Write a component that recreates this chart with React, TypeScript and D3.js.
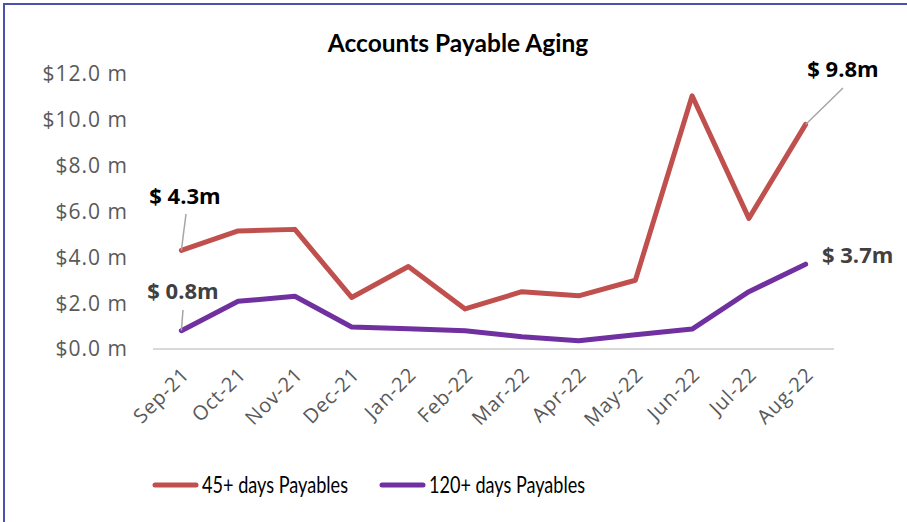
import * as d3 from "d3";
import React from "react";

// Chart data
const months = ["Sep-21", "Oct-21", "Nov-21", "Dec-21", "Jan-22", "Feb-22", "Mar-22", "Apr-22", "May-22", "Jun-22", "Jul-22", "Aug-22"];
const payables45 = [4.3, 5.15, 5.22, 2.25, 3.6, 1.75, 2.5, 2.32, 3.0, 11.05, 5.7, 9.8];
const payables120 = [0.8, 2.08, 2.3, 0.96, 0.88, 0.8, 0.53, 0.36, 0.62, 0.87, 2.5, 3.7];
const yTicks = [0, 2, 4, 6, 8, 10, 12];
const seriesNames = ["45+ days Payables", "120+ days Payables"];

const W = 907;
const H = 522;
const RED = "#C0504D";
const PURPLE = "#7030A0";
const tickFont = "'Open Sans', 'Noto Sans', sans-serif";
const titleFont = "Lato, 'Open Sans', sans-serif";

const App = () => {
  const x = d3.scaleBand().domain(months).range([153, 834]);
  const y = d3.scaleLinear().domain([0, 12]).range([349, 74]);
  const cx = (m: string) => (x(m) ?? 0) + x.bandwidth() / 2;

  const line = d3
    .line<number>()
    .x((_d, i) => cx(months[i]))
    .y((d) => y(d));

  const last = months.length - 1;

  // end-point labels with leader lines
  const labels = [
    { text: "$ 4.3m", v: payables45[0], i: 0, lx: 185, ly: 204, fill: "#000", anchor: "middle", lead: [186, 214] },
    { text: "$ 0.8m", v: payables120[0], i: 0, lx: 183, ly: 299, fill: "#404040", anchor: "middle", lead: [183, 310] },
    { text: "$ 9.8m", v: payables45[last], i: last, lx: 843, ly: 77, fill: "#000", anchor: "middle", lead: [843, 88] },
    { text: "$ 3.7m", v: payables120[last], i: last, lx: 822, ly: 263, fill: "#404040", anchor: "start", lead: null },
  ];

  const legendWidths = [146, 156];

  return (
    <svg width={W} height={H} style={{ position: "absolute", left: 0, top: 0, background: "#fff" }}>
      <rect x={0} y={0} width={W} height={H} fill="#fff" />
      {/* frame */}
      <path d={`M4,${H} L4,4 L${W},4`} fill="none" stroke="#4F4FAF" strokeWidth={2} />

      <text x={458} y={52} textAnchor="middle" fontFamily={titleFont} fontWeight="bold" fontSize={24.5} fill="#000">
        Accounts Payable Aging
      </text>

      {/* y axis labels */}
      {yTicks.map((t) => (
        <text key={t} x={128} y={y(t)} dy="0.35em" textAnchor="end" fontFamily={tickFont} fontSize={21} letterSpacing={1} fill="#595959">
          {`$${t.toFixed(1)} m`}
        </text>
      ))}

      {/* baseline */}
      <line x1={153} x2={834} y1={y(0)} y2={y(0)} stroke="#D9D9D9" strokeWidth={2} />

      {/* x axis labels */}
      {months.map((m) => (
        <text
          key={m}
          transform={`translate(${cx(m) + 4},${371}) rotate(-45)`}
          textAnchor="end"
          dy="0.35em"
          fontFamily={tickFont}
          fontSize={20}
          letterSpacing={0.8}
          fill="#595959"
        >
          {m}
        </text>
      ))}

      {/* series */}
      <path d={line(payables45) ?? ""} fill="none" stroke={RED} strokeWidth={5} strokeLinejoin="round" strokeLinecap="round" />
      <path d={line(payables120) ?? ""} fill="none" stroke={PURPLE} strokeWidth={5} strokeLinejoin="round" strokeLinecap="round" />

      {/* data labels */}
      {labels.map((l) => (
        <g key={l.text}>
          {l.lead && (
            <line x1={l.lead[0]} y1={l.lead[1]} x2={cx(months[l.i])} y2={y(l.v)} stroke="#A6A6A6" strokeWidth={1.5} />
          )}
          <text x={l.lx} y={l.ly} textAnchor={l.anchor as any} fontFamily={tickFont} fontWeight="bold" fontSize={22} fill={l.fill}>
            {l.text}
          </text>
        </g>
      ))}

      {/* legend */}
      {seriesNames.map((name, i) => {
        const lx = i === 0 ? 153 : 380;
        return (
          <g key={name}>
            <line x1={lx + 2} x2={lx + 43} y1={485} y2={485} stroke={i === 0 ? RED : PURPLE} strokeWidth={5} strokeLinecap="round" />
            <text
              x={lx + 49}
              y={493}
              fontFamily={titleFont}
              fontSize={24}
              textLength={legendWidths[i]}
              lengthAdjust="spacingAndGlyphs"
              fill="#000"
            >
              {name}
            </text>
          </g>
        );
      })}
    </svg>
  );
};

export default App;
